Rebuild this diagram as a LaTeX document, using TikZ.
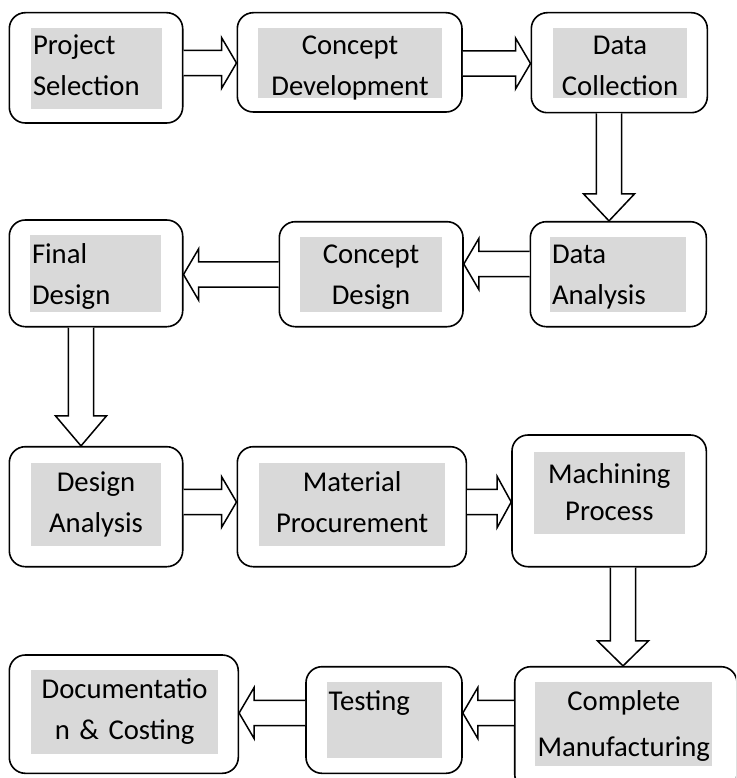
\documentclass[tikz,border=0pt]{standalone}
\usepackage{fontspec}
\setmainfont{Carlito}
\usepackage{tikz}
\usetikzlibrary{calc}
\definecolor{shadegray}{HTML}{D9D9D9}

\tikzset{
  stage/.style={draw, line width=1.6pt, rounded corners=16pt, fill=white},
  stagetext/.style={fill=shadegray, inner xsep=2pt, inner ysep=0pt,
    text height=20pt, text depth=47pt, font=\fontsize{28.7}{41}\selectfont},
  fat arrow/.style={draw, line width=1.5pt, fill=white, line join=miter},
}

% hollow block arrow: [head length]{from}{to}
\newcommand{\fatarrow}[3][15pt]{%
  \coordinate (fa-h) at ($(#3)!#1!(#2)$);
  \draw[fat arrow] ($(#2)!12.7pt!90:(#3)$) -- ($(fa-h)!12.7pt!90:(#3)$)
    -- ($(fa-h)!25.5pt!90:(#3)$) -- (#3) -- ($(fa-h)!25.5pt!-90:(#3)$)
    -- ($(fa-h)!12.7pt!-90:(#3)$) -- ($(#2)!12.7pt!-90:(#3)$);
}

\begin{document}
\begin{tikzpicture}[x=1pt, y=-1pt]
\useasboundingbox (0,0) rectangle (736,778);
\clip (0,0) rectangle (736,778);
%% row 1
\node[stage, minimum width=173.4, minimum height=110.3] (ps) at (96,67.85) {};
\node[stage, minimum width=224.7, minimum height=99.3] (cd) at (349.65,62.35) {};
\node[stage, minimum width=176, minimum height=100] (dc) at (619.3,62.7) {};
\node[stagetext, align=left, text width=127, minimum height=80.7] (ps-t) at (96.5,68.35) {Project\\Selection};
\node[stagetext, align=center, text width=180, minimum height=70, text depth=36pt] (cd-t) at (350,63) {Concept\\Development};
\node[stagetext, align=center, text width=130, minimum height=70, text depth=36pt] (dc-t) at (620,63) {Data\\Collection};
%% row 2
\node[stage, minimum width=173.4, minimum height=106.7] (fd) at (96,273.35) {};
\node[stage, minimum width=183.7, minimum height=105] (cod) at (371.15,274.2) {};
\node[stage, minimum width=176, minimum height=105] (da) at (618.3,274.2) {};
\node[stagetext, align=left, text width=127, minimum height=76.7, text depth=40pt] (fd-t) at (95.5,273.35) {Final\\Design};
\node[stagetext, align=center, text width=138, minimum height=75, text depth=42pt] (cod-t) at (371,274.2) {Concept\\Design};
\node[stagetext, align=left, text width=132, minimum height=75, text depth=42pt] (da-t) at (618,274.2) {Data\\Analysis};
%% row 3
\node[stage, minimum width=173.4, minimum height=120] (dea) at (96,506.7) {};
\node[stage, minimum width=229, minimum height=120] (mpr) at (351.8,506.7) {};
\node[stage, minimum width=194.3, minimum height=131.7] (map) at (609.15,500.85) {};
\node[stagetext, align=center, text width=126, minimum height=82.7] (dea-t) at (96,504.65) {Design\\Analysis};
\node[stagetext, align=center, text width=182.3, minimum height=82.7] (mpr-t) at (352.15,504.65) {Material\\Procurement};
\node[stagetext, align=center, text width=146.7, minimum height=82.3, text depth=39pt] (map-t) at (609.35,492.85) {Machining\\[-4pt]Process};
%% row 4
\node[stage, minimum width=229, minimum height=118.3] (doc) at (123.8,714.15) {};
\node[stage, minimum width=156, minimum height=106.6] (tst) at (384,720) {};
\node[stage, minimum width=222.3, minimum height=123.3] (cm) at (625.85,728.35) {};
\node[stagetext, align=center, text width=183.3, minimum height=84] (doc-t) at (124.65,712) {Documentatio\\n \& Costing};
\node[stagetext, align=left, text width=111.3, minimum height=76.6, text depth=40pt] (tst-t) at (384.35,720) {Testing};
\node[stagetext, align=center, text width=173, minimum height=83.4, text depth=48pt] (cm-t) at (623.8,724) {Complete\\[5.7pt]Manufacturing};
%% arrows
\fatarrow{ps.east |- 0,63}{cd.west |- 0,63}
\fatarrow{cd.east |- 0,63.5}{dc.west |- 0,63.5}
\fatarrow[27pt]{dc.south -| 609,0}{da.north -| 609,0}
\fatarrow{da.west |- 0,264}{cod.east |- 0,264}
\fatarrow{cod.west |- 0,274.5}{fd.east |- 0,274.5}
\fatarrow[30pt]{fd.south -| 81,0}{dea.north -| 81,0}
\fatarrow{dea.east |- 0,502}{mpr.west |- 0,502}
\fatarrow[14pt]{mpr.east |- 0,502}{map.west |- 0,502}
\fatarrow[25pt]{map.south -| 623,0}{cm.north -| 623,0}
\fatarrow{cm.west |- 0,713}{tst.east |- 0,713}
\fatarrow{tst.west |- 0,713}{doc.east |- 0,713}
\end{tikzpicture}
\end{document}
